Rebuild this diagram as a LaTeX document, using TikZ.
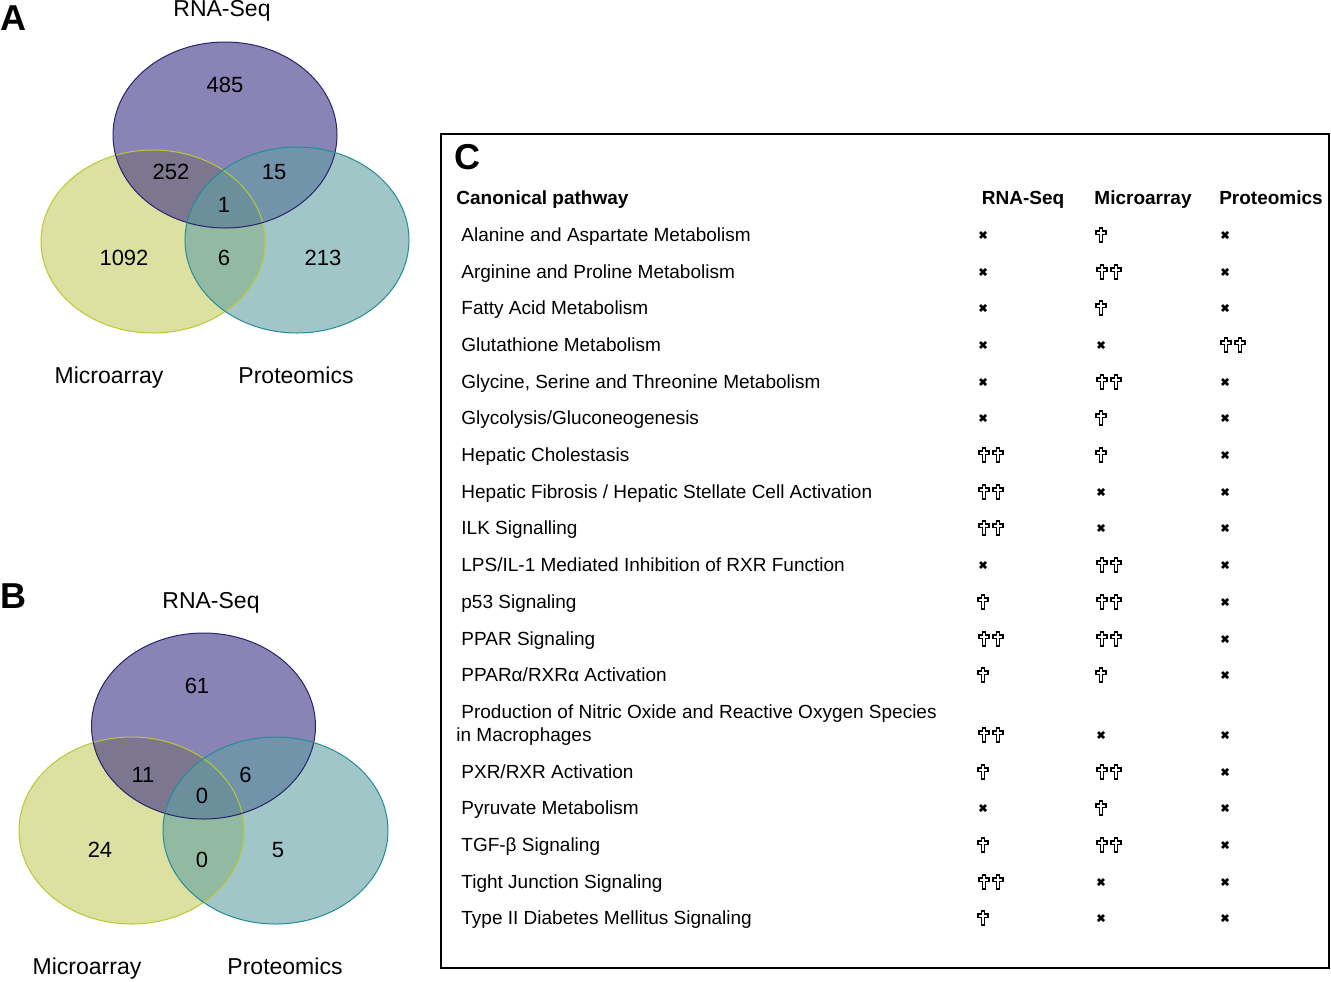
\documentclass[tikz,border=0pt]{standalone}
\usepackage{fontspec}
\setmainfont{Liberation Sans}

\definecolor{rnaFill}{RGB}{60,48,133}
\definecolor{rnaLine}{RGB}{38,36,110}
\definecolor{micFill}{RGB}{197,203,97}
\definecolor{micLine}{RGB}{186,200,50}
\definecolor{proFill}{RGB}{97,160,163}
\definecolor{proLine}{RGB}{35,140,150}

\tikzset{
  panel/.style={font=\fontsize{18}{20}\selectfont\bfseries, anchor=west, inner sep=0pt,
    text height=13pt, text depth=0pt},
  vennnum/.style={font=\fontsize{11}{13}\selectfont, inner sep=0pt,
    text height=7.9pt, text depth=0pt},
  vennlabel/.style={font=\fontsize{11.5}{13}\selectfont, inner sep=0pt,
    text height=8.3pt, text depth=0pt},
  rowtext/.style={font=\fontsize{9.5}{11}\selectfont, anchor=west, inner sep=0pt,
    text height=6.85pt, text depth=0pt},
  headtext/.style={font=\fontsize{9.5}{11}\selectfont\bfseries, inner sep=0pt,
    text height=6.85pt, text depth=0pt},
  nomark/.pic={\draw[line width=1.35pt] (-3,-3) -- (3,3) (-3,3) -- (3,-3);},
  onecross/.pic={\draw[line width=0.6pt, fill=white] (-1.8,-7) -- (1.8,-7) -- (1.8,-4)
    -- (5,-4) -- (5,-0.6) -- (1.8,-0.6) -- (1.8,7) -- (-1.8,7) -- (-1.8,-0.6)
    -- (-5,-0.6) -- (-5,-4) -- (-1.8,-4) -- cycle;},
}

% 0 = x, 1 = one cross, 2 = two crosses
\newcommand{\cellmark}[3]{%
  \ifcase#3 \pic at (#1,#2) {nomark};
  \or \pic at (#1,#2) {onecross};
  \or \pic at (#1+1,#2) {onecross}; \pic at (#1+15,#2) {onecross};
  \fi}

\begin{document}
\begin{tikzpicture}[x=0.5pt, y=-0.5pt]
  \useasboundingbox (0,0) rectangle (1331,981);

  % --- A
  \node[panel] (labA) at (0,17) {A};
  \fill[micFill, fill opacity=0.6] (153,241.5) ellipse (112 and 91.5);
  \fill[rnaFill, fill opacity=0.6] (225,135) ellipse (112 and 93);
  \fill[proFill, fill opacity=0.6] (297,240) ellipse (112 and 93);
  \draw[micLine, line width=0.5pt] (153,241.5) ellipse (112 and 91.5);
  \draw[rnaLine, line width=0.5pt] (225,135) ellipse (112 and 93);
  \draw[proLine, line width=0.5pt] (297,240) ellipse (112 and 93);
  \node[vennlabel] (rnaA) at (222,8.5) {RNA-Seq};
  \node[vennlabel] (micA) at (109,375) {Microarray};
  \node[vennlabel] (proA) at (296,375) {Proteomics};
  \node[vennnum] (a485) at (225,84.5) {485};
  \node[vennnum] (a252) at (171,172) {252};
  \node[vennnum] (a15) at (274,172) {15};
  \node[vennnum] (a1) at (224,204.5) {1};
  \node[vennnum] (a1092) at (124,258) {1092};
  \node[vennnum] (a6) at (224,258) {6};
  \node[vennnum] (a213) at (323,258) {213};

  % --- B
  \node[panel] (labB) at (0,595) {B};
  \fill[micFill, fill opacity=0.6] (131.5,830.5) ellipse (112.5 and 93.5);
  \fill[rnaFill, fill opacity=0.6] (203.5,726) ellipse (112 and 93);
  \fill[proFill, fill opacity=0.6] (275.5,830.5) ellipse (112.5 and 93.5);
  \draw[micLine, line width=0.5pt] (131.5,830.5) ellipse (112.5 and 93.5);
  \draw[rnaLine, line width=0.5pt] (203.5,726) ellipse (112 and 93);
  \draw[proLine, line width=0.5pt] (275.5,830.5) ellipse (112.5 and 93.5);
  \node[vennlabel] (rnaB) at (211,600) {RNA-Seq};
  \node[vennlabel] (micB) at (87,966) {Microarray};
  \node[vennlabel] (proB) at (285,966) {Proteomics};
  \node[vennnum] (b61) at (197,686) {61};
  \node[vennnum] (b11) at (143,774.5) {11};
  \node[vennnum] (b6) at (245.5,774.5) {6};
  \node[vennnum] (b0a) at (202,795.5) {0};
  \node[vennnum] (b24) at (100,849.5) {24};
  \node[vennnum] (b0b) at (202,860) {0};
  \node[vennnum] (b5) at (278,849.5) {5};

  % --- C
  \draw[line width=1pt] (441,134) rectangle (1329,968);
  \node[panel] (labC) at (454,156) {C};
  \node[headtext, anchor=west] (hPath) at (456,198) {Canonical pathway};
  \node[headtext] (hRna) at (1023,198) {RNA-Seq};
  \node[headtext] (hMic) at (1143,198) {Microarray};
  \node[headtext] (hPro) at (1271,198) {Proteomics};

  \foreach \y/\name/\ra/\mi/\pr [count=\i] in {
      235/{Alanine and Aspartate Metabolism}/0/1/0,
      272/{Arginine and Proline Metabolism}/0/2/0,
      308/{Fatty Acid Metabolism}/0/1/0,
      345/{Glutathione Metabolism}/0/0/2,
      382/{Glycine, Serine and Threonine Metabolism}/0/2/0,
      418/{Glycolysis/Gluconeogenesis}/0/1/0,
      455/{Hepatic Cholestasis}/2/1/0,
      492/{Hepatic Fibrosis / Hepatic Stellate Cell Activation}/2/0/0,
      528/{ILK Signalling}/2/0/0,
      565/{LPS/IL-1 Mediated Inhibition of RXR Function}/0/2/0,
      602/{p53 Signaling}/1/2/0,
      639/{PPAR Signaling}/2/2/0,
      675/{PPARα/RXRα Activation}/1/1/0,
      772/{PXR/RXR Activation}/1/2/0,
      808/{Pyruvate Metabolism}/0/1/0,
      845/{TGF-β Signaling}/1/2/0,
      882/{Tight Junction Signaling}/2/0/0,
      918/{Type II Diabetes Mellitus Signaling}/1/0/0} {
    \node[rowtext] (row\i) at (461,\y) {\name};
    \cellmark{983}{\y}{\ra}
    \cellmark{1101}{\y}{\mi}
    \cellmark{1225}{\y}{\pr}
  }

  % two-line row
  \node[rowtext] (rowNO) at (461,712) {Production of Nitric Oxide and Reactive Oxygen Species};
  \node[rowtext] (rowNOb) at (456,735) {in Macrophages};
  \cellmark{983}{735}{2}
  \cellmark{1101}{735}{0}
  \cellmark{1225}{735}{0}
\end{tikzpicture}
\end{document}
